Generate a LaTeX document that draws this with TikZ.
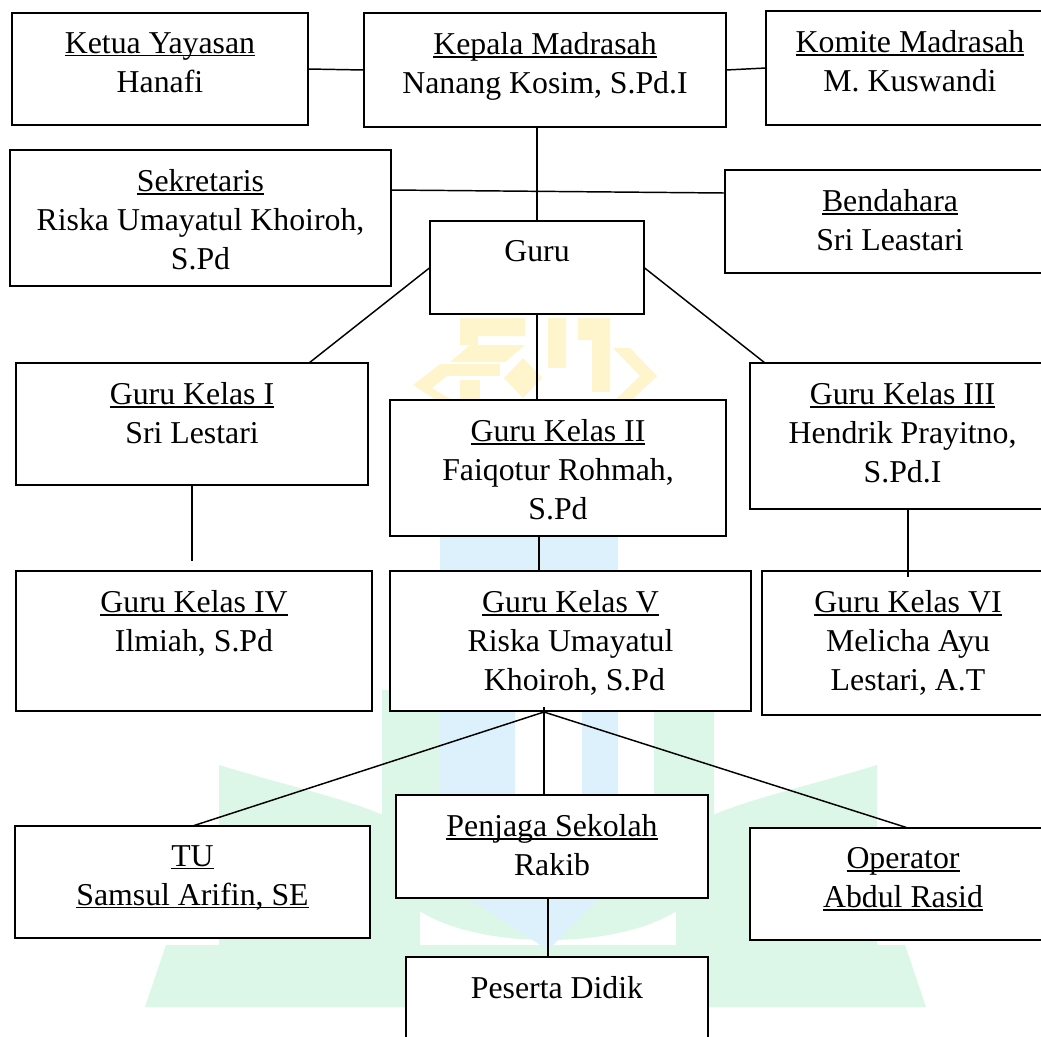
\documentclass[tikz,border=0pt]{standalone}
\usepackage{fontspec}
\setmainfont{Liberation Serif}
\newsavebox\ulnbox
\newcommand\uln[1]{\sbox\ulnbox{#1}\rlap{\rule[-2.4pt]{\wd\ulnbox}{1.2pt}}\usebox\ulnbox}
\usetikzlibrary{calc}
\definecolor{wmY}{HTML}{FFF5CC}
\definecolor{wmB}{HTML}{DCF1FB}
\definecolor{wmG}{HTML}{DCF7E8}
\tikzset{
  box/.style={draw, line width=1.4pt, fill=white, inner sep=0pt, outer sep=0pt, anchor=north west},
  lbl/.style={anchor=north, align=center, inner sep=0pt},
  conn/.style={line width=1.1pt},
}
\newcommand\orgbox[6]{%
  \node[box, minimum width={(#4-#2)*0.75pt}, minimum height={(#5-#3)*0.75pt}] (#1) at (#2,#3) {};
  \node[lbl] (#1-t) at ($(#1.north)+(0,19)$) {#6};
}
\begin{document}
\begin{tikzpicture}[x=0.75pt, y=-0.75pt, font=\fontsize{23.85}{29.25}\selectfont]
\useasboundingbox (0,0) rectangle (1041,1036);
\clip (0,0) rectangle (1041,1036);
\fill[white] (0,0) rectangle (1041,1036);
% --- faint watermark ---
\fill[wmG] (145,1007) -- (926,1007) -- (905,945) -- (166,945) -- cycle;
\fill[wmG] (219,765) .. controls (300,790) and (380,805) .. (420,835) -- (420,950) -- (219,950) -- cycle;
\fill[wmG] (877,765) .. controls (796,790) and (716,805) .. (676,835) -- (676,950) -- (877,950) -- cycle;
\draw[wmG, line width=45pt] (412,690) -- (412,850) .. controls (412,930) and (684,930) .. (684,850) -- (684,690);
\fill[wmB] (440,480) rectangle (618,580);
\fill[wmB] (440,580) -- (515,580) -- (515,870) -- (548,905) -- (548,950) -- (440,880) -- cycle;
\fill[wmB] (582,580) -- (618,580) -- (618,880) -- (548,950) -- (548,905) -- (582,870) -- cycle;
\fill[wmY] (460,318) -- (525,318) -- (525,336) -- (478,336) -- (478,345) -- (460,345) -- cycle;
\fill[wmY] (470,345) -- (525,345) -- (505,362) -- (450,362) -- cycle;
\fill[wmY] (440,364) -- (500,364) -- (500,376) -- (440,376) -- cycle;
\fill[wmY] (413,385) -- (440,364) -- (452,372) -- (432,388) -- (452,400) -- (436,400) -- cycle;
\fill[wmY] (460,380) -- (480,380) -- (480,400) -- (460,400) -- cycle;
\fill[wmY] (523,358) -- (542,378) -- (523,398) -- (504,378) -- cycle;
\fill[wmY] (548,318) -- (566,318) -- (566,368) -- (548,368) -- cycle;
\fill[wmY] (578,318) -- (610,318) -- (610,392) -- (592,392) -- (592,340) -- (578,340) -- cycle;
\fill[wmY] (613,348) -- (630,348) -- (657,376) -- (632,400) -- (615,400) -- (640,376) -- cycle;
% --- boxes ---
\orgbox{ketua}{12}{13}{308}{125}{\uln{Ketua Yayasan}\\Hanafi}
\orgbox{kepala}{364}{13}{726}{127}{\uln{Kepala Madrasah}\\Nanang Kosim, S.Pd.I}
\orgbox{komite}{766}{11}{1054}{125}{\uln{Komite Madrasah}\\M. Kuswandi}
\orgbox{sek}{10}{150}{391}{286}{\uln{Sekretaris}\\Riska Umayatul Khoiroh,\\S.Pd}
\orgbox{bend}{725}{170}{1055}{273}{\uln{Bendahara}\\Sri Leastari}
\orgbox{guru}{430}{221}{644}{314}{Guru}
\orgbox{gk1}{16}{363}{368}{485}{\uln{Guru Kelas I}\\Sri Lestari}
\orgbox{gk2}{390}{400}{726}{536}{\uln{Guru Kelas II}\\Faiqotur Rohmah,\\S.Pd}
\orgbox{gk3}{750}{363}{1055}{509}{\uln{Guru Kelas III}\\Hendrik Prayitno,\\S.Pd.I}
\orgbox{gk4}{16}{571}{372}{711}{\uln{Guru Kelas IV}\\Ilmiah, S.Pd}
\orgbox{gk5}{390}{571}{751}{711}{\uln{Guru Kelas V}\\Riska Umayatul\\\ Khoiroh, S.Pd}
\orgbox{gk6}{762}{571}{1054}{715}{\uln{Guru Kelas VI}\\Melicha Ayu\\Lestari, A.T}
\orgbox{tu}{15}{826}{370}{938}{\uln{TU}\\\uln{Samsul Arifin, SE}}
\orgbox{penjaga}{396}{795}{708}{898}{\uln{Penjaga Sekolah}\\Rakib}
\orgbox{op}{750}{828}{1056}{940}{\uln{Operator}\\\uln{Abdul Rasid}}
\orgbox{peserta}{406}{957}{708}{1060}{Peserta Didik}
% --- connectors ---
\coordinate (sekR) at ($(sek.north east)+(0,40)$);
\coordinate (bendL) at ($(bend.north west)+(0,23)$);
\coordinate (gk1T) at ($(gk1.north east)+(-59,0)$);
\coordinate (gk3T) at ($(gk3.north west)+(15,0)$);
\coordinate (gk2B) at ($(gk2.south west)+(149,0)$);
\coordinate (hub) at ($(gk5.south west)+(154,1)$);
\coordinate (opT) at ($(op.north west)+(158,0)$);
\coordinate (penB) at ($(penjaga.south west)+(152,0)$);
\draw[conn] (ketua.east) -- (kepala.west);
\draw[conn] (kepala.east) -- (komite.west);
\draw[conn] (guru.north |- kepala.south) -- (guru.north);
\draw[conn] (sekR) -- (bendL);
\draw[conn] (guru.west) -- (gk1T);
\draw[conn] (guru.east) -- (gk3T);
\draw[conn] (guru.south) -- (guru.south |- gk2.north);
\draw[conn] (gk2B) -- (gk2B |- gk5.north);
\draw[conn, shorten >=7.5pt] (gk1.south) -- (gk1.south |- gk4.north);
\draw[conn, shorten >=-4.5pt] (gk6.north |- gk3.south) -- (gk6.north);
\draw[conn] ($(hub)+(0,-5)$) -- (hub |- penjaga.north);
\draw[conn] (hub) -- (tu.north);
\draw[conn] (hub) -- (opT);
\draw[conn] (penB) -- (penB |- peserta.north);
\end{tikzpicture}
\end{document}
